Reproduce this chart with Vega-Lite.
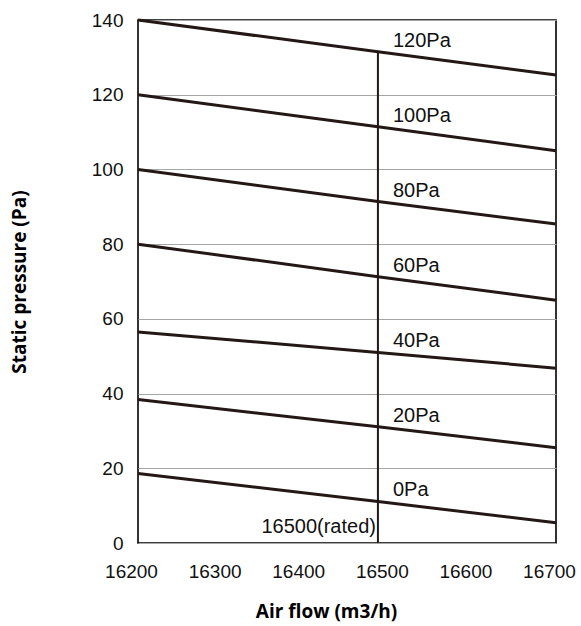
{
  "$schema": "https://vega.github.io/schema/vega-lite/v6.json",
  "autosize": {"type": "none"},
  "padding": {"left": 138, "top": 20, "right": 25, "bottom": 83},
  "width": 418,
  "height": 523,
  "background": "white",
  "config": {
    "view": {"stroke": "#000000", "strokeWidth": 1.6},
    "axis": {"domain": false, "ticks": false, "labelFont": "Liberation Sans", "labelFontSize": 19, "labelColor": "#111111", "titleFont": "Open Sans", "titleFontWeight": "bold", "titleFontSize": 19, "titleColor": "#000000"}
  },
  "datasets": {
    "curves": [
      {"series": "120Pa", "flow": 16200, "pressure": 140},
      {"series": "120Pa", "flow": 16487, "pressure": 131.5},
      {"series": "120Pa", "flow": 16700, "pressure": 125.3},
      {"series": "100Pa", "flow": 16200, "pressure": 120},
      {"series": "100Pa", "flow": 16487, "pressure": 111.4},
      {"series": "100Pa", "flow": 16700, "pressure": 105.0},
      {"series": "80Pa", "flow": 16200, "pressure": 100},
      {"series": "80Pa", "flow": 16487, "pressure": 91.4},
      {"series": "80Pa", "flow": 16700, "pressure": 85.4},
      {"series": "60Pa", "flow": 16200, "pressure": 80},
      {"series": "60Pa", "flow": 16487, "pressure": 71.3},
      {"series": "60Pa", "flow": 16700, "pressure": 65.0},
      {"series": "40Pa", "flow": 16200, "pressure": 56.5},
      {"series": "40Pa", "flow": 16487, "pressure": 51.0},
      {"series": "40Pa", "flow": 16700, "pressure": 46.8},
      {"series": "20Pa", "flow": 16200, "pressure": 38.4},
      {"series": "20Pa", "flow": 16487, "pressure": 31.1},
      {"series": "20Pa", "flow": 16700, "pressure": 25.5},
      {"series": "0Pa", "flow": 16200, "pressure": 18.6},
      {"series": "0Pa", "flow": 16487, "pressure": 11.1},
      {"series": "0Pa", "flow": 16700, "pressure": 5.4}
    ],
    "labels": [
      {"label": "120Pa", "flow": 16487, "pressure": 132.8},
      {"label": "100Pa", "flow": 16487, "pressure": 112.7},
      {"label": "80Pa", "flow": 16487, "pressure": 92.7},
      {"label": "60Pa", "flow": 16487, "pressure": 72.6},
      {"label": "40Pa", "flow": 16487, "pressure": 52.6},
      {"label": "20Pa", "flow": 16487, "pressure": 32.3},
      {"label": "0Pa", "flow": 16487, "pressure": 12.5}
    ],
    "rated": [
      {"flow": 16487, "low": 0, "high": 131.5, "text": "16500(rated)", "textY": 2.7}
    ]
  },
  "layer": [
    {
      "data": {"name": "curves"},
      "mark": {"type": "line", "color": "#231815", "strokeWidth": 3},
      "encoding": {
        "x": {"field": "flow", "type": "quantitative", "scale": {"domain": [16200, 16700], "nice": false, "zero": false},
              "axis": {"values": [16200, 16300, 16400, 16500, 16600, 16700], "grid": false, "format": "d", "labelPadding": 19, "labelBaseline": "top", "labelOffset": -7, "labelFlush": false, "labelOverlap": false, "title": "Air flow (m3/h)", "titleX": 188, "titleY": 74, "titleBaseline": "alphabetic", "titleAlign": "center"}},
        "y": {"field": "pressure", "type": "quantitative", "scale": {"domain": [0, 140], "nice": false},
              "axis": {"values": [0, 20, 40, 60, 80, 100, 120, 140], "grid": true, "gridColor": "#a6a6a6", "gridWidth": 1, "labelPadding": 15, "labelFlush": false, "title": "Static pressure (Pa)", "titleX": -119, "titleY": 261.5, "titleAngle": -90, "titleBaseline": "middle", "titleAlign": "center"}},
        "detail": {"field": "series", "type": "nominal"}
      }
    },
    {
      "data": {"name": "rated"},
      "mark": {"type": "rule", "color": "#231815", "strokeWidth": 2},
      "encoding": {
        "x": {"field": "flow", "type": "quantitative"},
        "y": {"field": "low", "type": "quantitative"},
        "y2": {"field": "high"}
      }
    },
    {
      "data": {"name": "rated"},
      "mark": {"type": "text", "align": "right", "baseline": "alphabetic", "dx": -2, "font": "Liberation Sans", "fontSize": 20, "color": "#111111"},
      "encoding": {
        "x": {"field": "flow", "type": "quantitative"},
        "y": {"field": "textY", "type": "quantitative"},
        "text": {"field": "text"}
      }
    },
    {
      "data": {"name": "labels"},
      "mark": {"type": "text", "align": "left", "baseline": "alphabetic", "dx": 15, "font": "Liberation Sans", "fontSize": 20, "color": "#111111"},
      "encoding": {
        "x": {"field": "flow", "type": "quantitative"},
        "y": {"field": "pressure", "type": "quantitative"},
        "text": {"field": "label"}
      }
    }
  ]
}
